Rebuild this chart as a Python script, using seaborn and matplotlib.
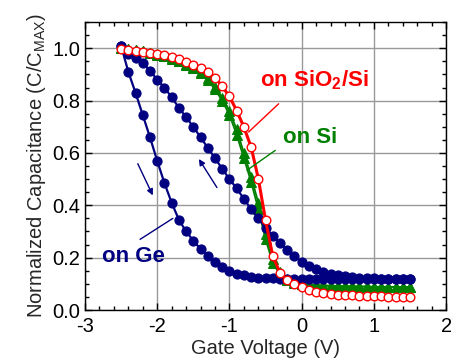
import numpy as np
import pandas as pd
import matplotlib
matplotlib.use("Agg")
import matplotlib.pyplot as plt
from matplotlib.ticker import MultipleLocator
import seaborn as sns

sns.set_theme(style="white")
plt.rcParams["font.family"] = ["Liberation Sans", "DejaVu Sans"]
plt.rcParams["mathtext.fontset"] = "custom"
plt.rcParams["mathtext.rm"] = "Liberation Sans"
plt.rcParams["mathtext.bf"] = "Liberation Sans:bold"

# ---- data ----
voltage = [-2.5, -2.4, -2.3, -2.2, -2.1, -2.0, -1.9, -1.8, -1.7, -1.6, -1.5,
           -1.4, -1.3, -1.2, -1.1, -1.0, -0.9, -0.8, -0.7, -0.6, -0.5,
           -0.4, -0.3, -0.2, -0.1, 0.0, 0.1, 0.2, 0.3, 0.4, 0.5,
           0.6, 0.7, 0.8, 0.9, 1.0, 1.1, 1.2, 1.3, 1.4, 1.5]

ge_forward = [1.01, 0.91, 0.83, 0.745, 0.66, 0.57, 0.485, 0.41, 0.345, 0.30, 0.265,
              0.233, 0.207, 0.184, 0.165, 0.150, 0.139, 0.132, 0.127, 0.124, 0.122,
              0.121, 0.120, 0.120, 0.120, 0.120, 0.119, 0.119, 0.119, 0.119, 0.119,
              0.118, 0.118, 0.118, 0.118, 0.118, 0.118, 0.118, 0.118, 0.118, 0.118]

ge_reverse = [1.01, 0.98, 0.963, 0.944, 0.915, 0.88, 0.85, 0.813, 0.773, 0.737, 0.70,
              0.66, 0.62, 0.58, 0.54, 0.50, 0.465, 0.425, 0.385, 0.35, 0.315,
              0.282, 0.255, 0.23, 0.205, 0.185, 0.17, 0.157, 0.147, 0.139, 0.133,
              0.129, 0.126, 0.124, 0.122, 0.121, 0.120, 0.119, 0.119, 0.118, 0.118]

si_forward = [1.0, 0.997, 0.993, 0.988, 0.982, 0.976, 0.969, 0.96, 0.95, 0.938, 0.923,
              0.905, 0.878, 0.843, 0.80, 0.745, 0.67, 0.58, 0.49, 0.385, 0.27,
              0.18, 0.135, 0.113, 0.104, 0.099, 0.096, 0.094, 0.093, 0.092, 0.091,
              0.090, 0.090, 0.089, 0.089, 0.088, 0.088, 0.088, 0.087, 0.087, 0.087]

si_reverse = [1.0, 0.997, 0.993, 0.988, 0.983, 0.978, 0.971, 0.963, 0.953, 0.941, 0.927,
              0.91, 0.885, 0.852, 0.812, 0.76, 0.69, 0.60, 0.51, 0.41, 0.29,
              0.195, 0.145, 0.118, 0.107, 0.101, 0.098, 0.095, 0.094, 0.093, 0.092,
              0.091, 0.091, 0.090, 0.090, 0.089, 0.089, 0.089, 0.088, 0.088, 0.088]

sio2 = [0.997, 0.994, 0.991, 0.987, 0.982, 0.978, 0.973, 0.967, 0.958, 0.949, 0.938,
        0.925, 0.911, 0.888, 0.855, 0.816, 0.762, 0.699, 0.623, 0.502, 0.343,
        0.206, 0.142, 0.114, 0.098, 0.089, 0.077, 0.069, 0.064, 0.061, 0.058,
        0.057, 0.056, 0.055, 0.054, 0.053, 0.052, 0.051, 0.050, 0.049, 0.048]

NAVY = "#000080"
RED = "#ff0000"
GREEN = "#008000"

fig = plt.figure(figsize=(4.52, 3.63), dpi=100)
ax = fig.add_axes([0.188, 0.146, 0.799, 0.793])

common = dict(sort=False, estimator=None, ax=ax, legend=False)

sns.lineplot(x=voltage, y=si_reverse, color=GREEN, lw=1.3, marker="^",
             markersize=6.5, markeredgecolor=GREEN, markerfacecolor=GREEN, **common)
sns.lineplot(x=voltage, y=si_forward, color=GREEN, lw=1.3, marker="^",
             markersize=6.5, markeredgecolor=GREEN, markerfacecolor=GREEN, **common)
sns.lineplot(x=voltage, y=ge_reverse, color=NAVY, lw=1.6, marker="o",
             markersize=6.6, markeredgecolor=NAVY, markerfacecolor=NAVY, **common)
sns.lineplot(x=voltage, y=ge_forward, color=NAVY, lw=1.6, marker="o",
             markersize=6.6, markeredgecolor=NAVY, markerfacecolor=NAVY, **common)
sns.lineplot(x=voltage, y=sio2, color=RED, lw=2.2, marker="o",
             markersize=6.2, markeredgecolor=RED, markerfacecolor="white",
             markeredgewidth=1.0, **common)

ax.set_xlim(-3, 2)
ax.set_ylim(0, 1.1)
ax.xaxis.set_major_locator(MultipleLocator(1))
ax.xaxis.set_minor_locator(MultipleLocator(0.2))
ax.yaxis.set_major_locator(MultipleLocator(0.2))
ax.yaxis.set_minor_locator(MultipleLocator(0.05))
ax.set_yticklabels([f"{v:.1f}" for v in ax.get_yticks()])
ax.set_xticklabels([f"{v:g}" for v in ax.get_xticks()])
ax.grid(True, which="major", color="#999999", lw=1.0)
ax.tick_params(which="both", direction="in", top=True, right=True,
               left=True, bottom=True, colors="black", labelsize=14.5)
ax.tick_params(which="major", length=5, width=1)
ax.tick_params(which="minor", length=3, width=1)
ax.tick_params(axis="x", pad=5)
for s in ax.spines.values():
    s.set_color("black")
    s.set_linewidth(1.0)

ax.set_xlabel("Gate Voltage (V)", fontsize=14.5, labelpad=2)
ax.set_ylabel("Normalized Capacitance (C/C$_\\mathrm{MAX}$)", fontsize=14.5, labelpad=3)

# annotations
ax.text(-0.57, 0.877, "on SiO$_\\mathbf{2}$/Si", color=RED, fontsize=16,
        fontweight="bold", va="center", ha="left")
ax.text(-0.26, 0.658, "on Si", color=GREEN, fontsize=16,
        fontweight="bold", va="center", ha="left")
ax.text(-2.77, 0.203, "on Ge", color=NAVY, fontsize=16,
        fontweight="bold", va="center", ha="left")

ax.plot([-0.319, -0.735], [0.788, 0.680], color=RED, lw=1.0)
ax.plot([-0.365, -0.757], [0.61, 0.534], color=GREEN, lw=1.0)
ax.plot([-1.784, -2.237], [0.350, 0.270], color=NAVY, lw=1.0)

ax.annotate("", xy=(-2.061, 0.438), xytext=(-2.269, 0.559),
            arrowprops=dict(arrowstyle="-|>", color=NAVY, lw=1.0,
                            mutation_scale=9, shrinkA=0, shrinkB=0))
ax.annotate("", xy=(-1.423, 0.577), xytext=(-1.173, 0.468),
            arrowprops=dict(arrowstyle="-|>", color=NAVY, lw=1.0,
                            mutation_scale=9, shrinkA=0, shrinkB=0))

fig.savefig("out.png", dpi=100)
